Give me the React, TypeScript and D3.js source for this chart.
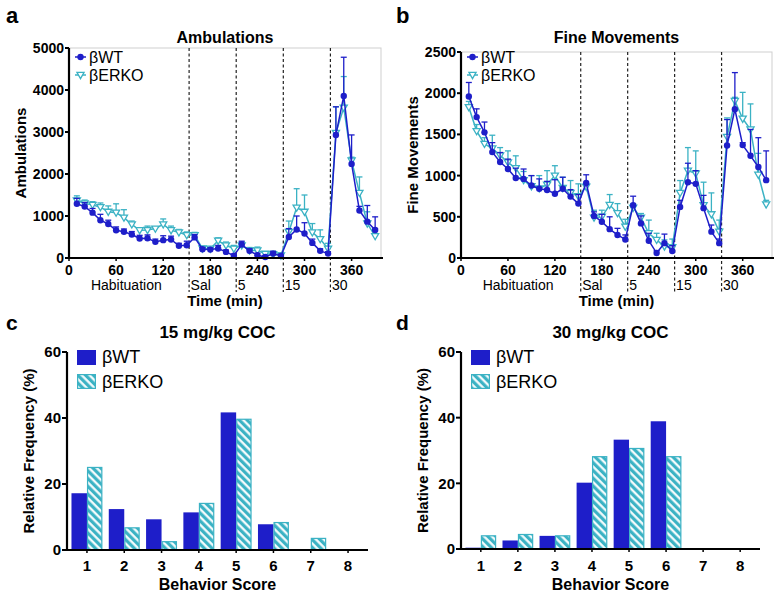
import React from 'react';
import * as d3 from 'd3';

// time bins (min)
const times = [10, 20, 30, 40, 50, 60, 70, 80, 90, 100, 110, 120, 130, 140, 150,
  160, 170, 180, 190, 200, 210, 220, 230, 240, 250, 260, 270,
  280, 290, 300, 310, 320, 330, 340, 350, 360, 370, 380, 390];
const timeTicks = [0, 60, 120, 180, 240, 300, 360];
const phaseBounds = [153, 213, 273, 333];
const phaseLabels = ['Habituation', 'Sal', '5', '15', '30'];

// Ambulations
const ambWT = [1290, 1225, 1080, 900, 810, 660, 625, 560, 465, 470, 385, 425, 440, 290, 305,
  490, 210, 200, 225, 145, 55, 320, 170, 65, 25, 105, 50,
  500, 680, 585, 360, 170, 105, 2930, 3860, 2240, 1130, 865, 665];
const ambWTsem = [130, 95, 100, 140, 90, 80, 65, 70, 75, 80, 65, 105, 80, 60, 95,
  70, 40, 40, 75, 45, 35, 80, 50, 45, 35, 55, 40,
  200, 320, 255, 90, 50, 45, 670, 920, 690, 100, 385, 315];
const ambKO = [1370, 1300, 1265, 1210, 1100, 1080, 960, 800, 660, 665, 700, 800, 660, 610, 545,
  545, 225, 220, 410, 300, 220, 300, 180, 180, 100, 90, 60,
  620, 1200, 1100, 610, 450, 220, 2980, 3580, 2320, 1550, 820, 520];
const ambKOsem = [110, 80, 75, 100, 140, 210, 190, 80, 60, 95, 40, 130, 100, 70, 75,
  65, 55, 50, 70, 80, 80, 80, 70, 80, 50, 70, 60,
  260, 450, 400, 210, 220, 130, 620, 740, 80, 380, 280, 180];

// Fine movements
const fineWT = [1960, 1710, 1525, 1285, 1165, 1080, 970, 960, 880, 840, 825, 780, 840, 745, 660,
  910, 510, 440, 350, 280, 225, 640, 420, 210, 60, 180, 85,
  620, 920, 900, 605, 320, 180, 1365, 1805, 1370, 1240, 1105, 945];
const fineWTsem = [170, 100, 125, 115, 115, 120, 120, 120, 120, 120, 105, 170, 140, 85, 110,
  100, 50, 90, 150, 80, 55, 110, 90, 90, 30, 110, 65,
  80, 230, 160, 155, 80, 50, 315, 445, 30, 320, 355, 355];
const fineKO = [1830, 1540, 1385, 1330, 1245, 1160, 1090, 945, 870, 845, 890, 1000, 850, 790, 750,
  865, 490, 500, 645, 545, 380, 610, 490, 300, 220, 140, 130,
  790, 1060, 1025, 640, 530, 320, 1470, 1905, 1690, 1560, 1010, 650];
const fineKOsem = [70, 80, 75, 160, 95, 140, 150, 105, 130, 155, 170, 120, 130, 150, 150,
  35, 90, 80, 125, 115, 90, 50, 50, 160, 80, 80, 100,
  150, 280, 275, 280, 260, 140, 230, 45, 320, 310, 260, 50];

// Behavior scores
const scores = ['1', '2', '3', '4', '5', '6', '7', '8'];
const coc15WT = [17.2, 12.4, 9.3, 11.4, 41.7, 7.8, 0, 0];
const coc15KO = [25.2, 6.9, 2.7, 14.3, 39.8, 8.5, 3.7, 0];
const coc30WT = [0.4, 2.6, 4.0, 20.2, 33.3, 38.9, 0, 0];
const coc30KO = [4.2, 4.6, 4.2, 28.3, 30.8, 28.3, 0, 0];
const freqTicks = [0, 20, 40, 60];

const FONT = '"Liberation Sans", Arial, Helvetica, sans-serif';
const WT = '#1e1ec9';
const KO = '#3bb2c4';

const triPath = d3.symbol(d3.symbolTriangle, 22)() as string;

function LinePanel(props: any) {
  const { letter, title, yLabel, wt, wtSem, ko, koSem, xLeft, xRight, yTop, yBot, yMax, yTicks } = props;
  const x = d3.scaleLinear().domain([0, 400]).range([xLeft, xRight]);
  const y = d3.scaleLinear().domain([0, yMax]).range([yBot, yTop]);
  const line = d3.line<number>().x((d, i) => x(times[i])).y(d => y(d));
  const boxRight = xRight - 2;

  const series = (vals: number[], sem: number[], color: string, isKO: boolean) => (
    <g>
      {vals.map((v, i) => (
        <g key={'e' + i} stroke={color} strokeWidth={1.3}>
          <line x1={x(times[i])} x2={x(times[i])} y1={y(v)} y2={y(v + sem[i])} />
          <line x1={x(times[i]) - 3} x2={x(times[i]) + 3} y1={y(v + sem[i])} y2={y(v + sem[i])} />
        </g>
      ))}
      <path d={line(vals) as string} fill="none" stroke={color} strokeWidth={1.5} />
      {vals.map((v, i) =>
        isKO ? (
          <path key={'m' + i} d={triPath} transform={`translate(${x(times[i])},${y(v) - 0.5}) rotate(180)`}
            fill="#ffffff" stroke={color} strokeWidth={1.3} />
        ) : (
          <circle key={'m' + i} cx={x(times[i])} cy={y(v)} r={3.2} fill={color} />
        )
      )}
    </g>
  );

  return (
    <g fontFamily={FONT}>
      <text x={letter.x} y={23} fontSize={22} fontWeight="bold">{letter.t}</text>
      <text x={(xLeft + boxRight) / 2} y={43} fontSize={16} fontWeight="bold" textAnchor="middle">{title}</text>
      <text transform={`translate(${xLeft - 43},${(yTop + yBot) / 2}) rotate(-90)`} fontSize={15}
        fontWeight="bold" textAnchor="middle">{yLabel}</text>
      <rect x={xLeft} y={yTop} width={boxRight - xLeft} height={yBot - yTop} fill="none" stroke="#cfcfcf" strokeWidth={1} />
      {phaseBounds.map(b => (
        <line key={b} x1={x(b)} x2={x(b)} y1={yTop} y2={292} stroke="#222" strokeWidth={1.2} strokeDasharray="3,2.5" />
      ))}
      {series(ko, koSem, KO, true)}
      {series(wt, wtSem, WT, false)}
      {/* axes */}
      <line x1={xLeft} x2={xLeft} y1={yTop} y2={yBot + 1} stroke="#000" strokeWidth={2.2} />
      <line x1={xLeft - 1} x2={xRight} y1={yBot} y2={yBot} stroke="#000" strokeWidth={2.2} />
      {yTicks.map((t: number) => (
        <g key={t}>
          <line x1={xLeft - 4} x2={xLeft} y1={y(t)} y2={y(t)} stroke="#000" strokeWidth={2} />
          <text x={xLeft - 5} y={y(t)} dy="0.36em" fontSize={14} fontWeight="bold" textAnchor="end">{t}</text>
        </g>
      ))}
      {timeTicks.map(t => (
        <g key={t}>
          <line x1={x(t)} x2={x(t)} y1={yBot} y2={yBot + 3} stroke="#000" strokeWidth={1.5} />
          <text x={x(t)} y={275} fontSize={14} fontWeight="bold" textAnchor="middle">{t}</text>
        </g>
      ))}
      {phaseLabels.map((p, i) => (
        i === 0 ? (
          <text key={p} x={x(73)} y={290} fontSize={14} textAnchor="middle">{p}</text>
        ) : (
          <text key={p} x={x(phaseBounds[i - 1]) + 1.5} y={290} fontSize={14}>{p}</text>
        )
      ))}
      <text x={(xLeft + boxRight) / 2} y={306} fontSize={15} fontWeight="bold" textAnchor="middle">Time (min)</text>
      {/* legend */}
      <g>
        <line x1={xLeft + 6} x2={xLeft + 17} y1={57} y2={57} stroke={WT} strokeWidth={1.5} />
        <circle cx={xLeft + 11.5} cy={57} r={3.2} fill={WT} />
        <text x={xLeft + 20} y={63} fontSize={16}>βWT</text>
        <line x1={xLeft + 6} x2={xLeft + 17} y1={75} y2={75} stroke={KO} strokeWidth={1.5} />
        <path d={triPath} transform={`translate(${xLeft + 11.5},${74.5}) rotate(180)`} fill="#fff" stroke={KO} strokeWidth={1.3} />
        <text x={xLeft + 20} y={81} fontSize={16}>βERKO</text>
      </g>
    </g>
  );
}

function BarPanel(props: any) {
  const { letter, title, wt, ko, xLeft, xRight, yBot, yTop, patternId } = props;
  const x = d3.scaleBand<string>().domain(scores).range([xLeft, xRight]).paddingInner(0.17).paddingOuter(0.12);
  const inner = d3.scaleBand<string>().domain(['WT', 'KO']).range([0, x.bandwidth()]);
  const y = d3.scaleLinear().domain([0, 60]).range([yBot, yTop]);
  return (
    <g fontFamily={FONT}>
      <text x={letter.x} y={330} fontSize={21} fontWeight="bold">{letter.t}</text>
      <text x={(xLeft + xRight) / 2} y={338} fontSize={17} fontWeight="bold" textAnchor="middle">{title}</text>
      <text transform={`translate(${xLeft - 33},${(yTop + yBot) / 2}) rotate(-90)`} fontSize={15}
        fontWeight="bold" textAnchor="middle">Relative Frequency (%)</text>
      {scores.map((s, i) => (
        <g key={s}>
          {wt[i] > 0 && (
            <rect x={(x(s) as number) + (inner('WT') as number)} y={y(wt[i])} width={inner.bandwidth()}
              height={yBot - y(wt[i])} fill={WT} />
          )}
          {ko[i] > 0 && (
            <rect x={(x(s) as number) + (inner('KO') as number) + 0.6} y={y(ko[i]) + 0.6} width={inner.bandwidth() - 1.2}
              height={yBot - y(ko[i]) - 0.6} fill={`url(#${patternId})`} stroke={KO} strokeWidth={1.2} />
          )}
        </g>
      ))}
      <line x1={xLeft} x2={xLeft} y1={yTop} y2={yBot + 1} stroke="#000" strokeWidth={2.2} />
      <line x1={xLeft - 1} x2={xRight} y1={yBot} y2={yBot} stroke="#000" strokeWidth={2.2} />
      {freqTicks.map(t => (
        <g key={t}>
          <line x1={xLeft - 5} x2={xLeft} y1={y(t)} y2={y(t)} stroke="#000" strokeWidth={2} />
          <text x={xLeft - 6} y={y(t)} dy="0.36em" fontSize={15} fontWeight="bold" textAnchor="end">{t}</text>
        </g>
      ))}
      {scores.map(s => (
        <g key={s}>
          <line x1={(x(s) as number) + x.bandwidth() / 2} x2={(x(s) as number) + x.bandwidth() / 2}
            y1={yBot} y2={yBot + 3} stroke="#000" strokeWidth={1.5} />
          <text x={(x(s) as number) + x.bandwidth() / 2} y={571} fontSize={15} fontWeight="bold" textAnchor="middle">{s}</text>
        </g>
      ))}
      <text x={(xLeft + xRight) / 2} y={590} fontSize={16} fontWeight="bold" textAnchor="middle">Behavior Score</text>
      <rect x={xLeft + 10} y={350} width={19} height={15} fill={WT} />
      <text x={xLeft + 35} y={363} fontSize={18}>βWT</text>
      <rect x={xLeft + 10.6} y={374.6} width={17.8} height={13.8} fill={`url(#${patternId})`} stroke={KO} strokeWidth={1.2} />
      <text x={xLeft + 35} y={388} fontSize={18}>βERKO</text>
    </g>
  );
}

export default function App() {
  return (
    <svg width={779} height={596} style={{ position: 'absolute', left: 0, top: 0, background: '#fff' }}>
      <defs>
        <pattern id="hatch" patternUnits="userSpaceOnUse" width={5.5} height={5.5} patternTransform="rotate(-45)">
          <rect width={5.5} height={5.5} fill={KO} />
          <line x1={1.5} x2={1.5} y1={0} y2={5.5} stroke="#fff" strokeWidth={2.2} />
        </pattern>
      </defs>
      <rect width={779} height={596} fill="#fff" />
      <LinePanel letter={{ t: 'a', x: 6 }} title="Ambulations" yLabel="Ambulations"
        wt={ambWT} wtSem={ambWTsem} ko={ambKO} koSem={ambKOsem}
        xLeft={69} xRight={383} yTop={48} yBot={258} yMax={5000} yTicks={[0, 1000, 2000, 3000, 4000, 5000]} />
      <LinePanel letter={{ t: 'b', x: 396 }} title="Fine Movements" yLabel="Fine Movements"
        wt={fineWT} wtSem={fineWTsem} ko={fineKO} koSem={fineKOsem}
        xLeft={461} xRight={774} yTop={52} yBot={258} yMax={2500} yTicks={[0, 500, 1000, 1500, 2000, 2500]} />
      <BarPanel letter={{ t: 'c', x: 6 }} title="15 mg/kg COC" wt={coc15WT} ko={coc15KO}
        xLeft={67} xRight={368} yTop={352} yBot={550} patternId="hatch" />
      <BarPanel letter={{ t: 'd', x: 396 }} title="30 mg/kg COC" wt={coc30WT} ko={coc30KO}
        xLeft={461} xRight={760} yTop={352} yBot={549} patternId="hatch" />
    </svg>
  );
}
